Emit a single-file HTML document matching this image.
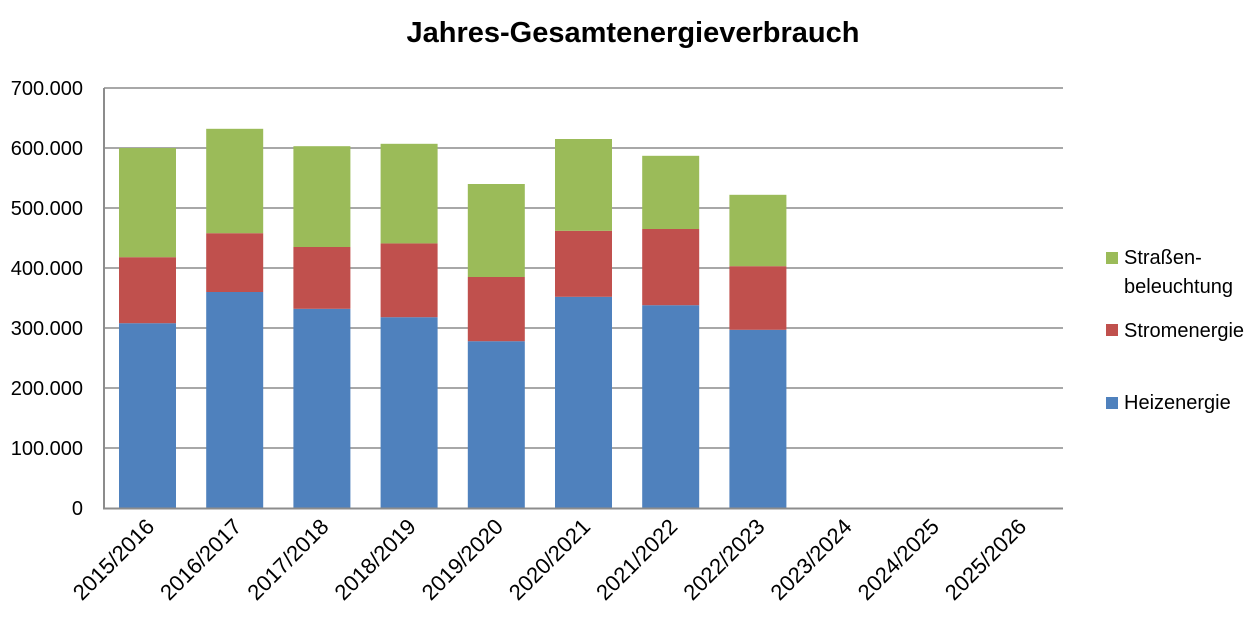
<!DOCTYPE html><html><head><style>body{margin:0;background:#fff}svg{display:block}text{font-family:"Liberation Sans",sans-serif;fill:#000}</style></head><body>
<svg width="1255" height="631" viewBox="0 0 1255 631">
<text x="633" y="42" font-size="29" font-weight="bold" text-anchor="middle">Jahres-Gesamtenergieverbrauch</text>
<g stroke="#8c8c8c" stroke-width="1.5">
<line x1="104" y1="88" x2="1063" y2="88"/><line x1="104" y1="148" x2="1063" y2="148"/><line x1="104" y1="208" x2="1063" y2="208"/><line x1="104" y1="268" x2="1063" y2="268"/><line x1="104" y1="328" x2="1063" y2="328"/><line x1="104" y1="388" x2="1063" y2="388"/><line x1="104" y1="448" x2="1063" y2="448"/>
</g>
<g font-size="20" text-anchor="end">
<text x="83" y="95">700.000</text><text x="83" y="155">600.000</text><text x="83" y="215">500.000</text><text x="83" y="275">400.000</text><text x="83" y="335">300.000</text><text x="83" y="395">200.000</text><text x="83" y="455">100.000</text><text x="83" y="515">0</text>
</g>
<g>
<rect x="119" y="323.2" width="57" height="184.8" fill="#4f81bd"/><rect x="119" y="257.2" width="57" height="66" fill="#c0504d"/><rect x="119" y="148" width="57" height="109.2" fill="#9bbb59"/>
<rect x="206.2" y="292" width="57" height="216" fill="#4f81bd"/><rect x="206.2" y="233.2" width="57" height="58.8" fill="#c0504d"/><rect x="206.2" y="128.8" width="57" height="104.4" fill="#9bbb59"/>
<rect x="293.4" y="308.8" width="57" height="199.2" fill="#4f81bd"/><rect x="293.4" y="247" width="57" height="61.8" fill="#c0504d"/><rect x="293.4" y="146.2" width="57" height="100.8" fill="#9bbb59"/>
<rect x="380.6" y="317.2" width="57" height="190.8" fill="#4f81bd"/><rect x="380.6" y="243.4" width="57" height="73.8" fill="#c0504d"/><rect x="380.6" y="143.8" width="57" height="99.6" fill="#9bbb59"/>
<rect x="467.8" y="341.2" width="57" height="166.8" fill="#4f81bd"/><rect x="467.8" y="277" width="57" height="64.2" fill="#c0504d"/><rect x="467.8" y="184" width="57" height="93" fill="#9bbb59"/>
<rect x="555" y="296.8" width="57" height="211.2" fill="#4f81bd"/><rect x="555" y="230.8" width="57" height="66" fill="#c0504d"/><rect x="555" y="139" width="57" height="91.8" fill="#9bbb59"/>
<rect x="642.2" y="305.2" width="57" height="202.8" fill="#4f81bd"/><rect x="642.2" y="229" width="57" height="76.2" fill="#c0504d"/><rect x="642.2" y="155.8" width="57" height="73.2" fill="#9bbb59"/>
<rect x="729.4" y="329.8" width="57" height="178.2" fill="#4f81bd"/><rect x="729.4" y="266.2" width="57" height="63.6" fill="#c0504d"/><rect x="729.4" y="194.8" width="57" height="71.4" fill="#9bbb59"/>
</g>
<line x1="104" y1="88" x2="104" y2="509" stroke="#8c8c8c" stroke-width="2"/>
<line x1="103" y1="508.5" x2="1063" y2="508.5" stroke="#8c8c8c" stroke-width="2"/>
<g font-size="22" text-anchor="end">
<text transform="translate(155.6,528) rotate(-45)">2015/2016</text>
<text transform="translate(242.8,528) rotate(-45)">2016/2017</text>
<text transform="translate(330,528) rotate(-45)">2017/2018</text>
<text transform="translate(417.2,528) rotate(-45)">2018/2019</text>
<text transform="translate(504.4,528) rotate(-45)">2019/2020</text>
<text transform="translate(591.6,528) rotate(-45)">2020/2021</text>
<text transform="translate(678.8,528) rotate(-45)">2021/2022</text>
<text transform="translate(766,528) rotate(-45)">2022/2023</text>
<text transform="translate(853.2,528) rotate(-45)">2023/2024</text>
<text transform="translate(940.4,528) rotate(-45)">2024/2025</text>
<text transform="translate(1027.6,528) rotate(-45)">2025/2026</text>
</g>
<rect x="1106" y="252" width="12" height="12" fill="#9bbb59"/>
<text x="1124" y="264" font-size="20">Straßen-</text><text x="1124" y="293" font-size="20">beleuchtung</text>
<rect x="1106" y="324" width="12" height="12" fill="#c0504d"/>
<text x="1124" y="337" font-size="20">Stromenergie</text>
<rect x="1106" y="397" width="12" height="12" fill="#4f81bd"/>
<text x="1124" y="409" font-size="20">Heizenergie</text>
</svg></body></html>
